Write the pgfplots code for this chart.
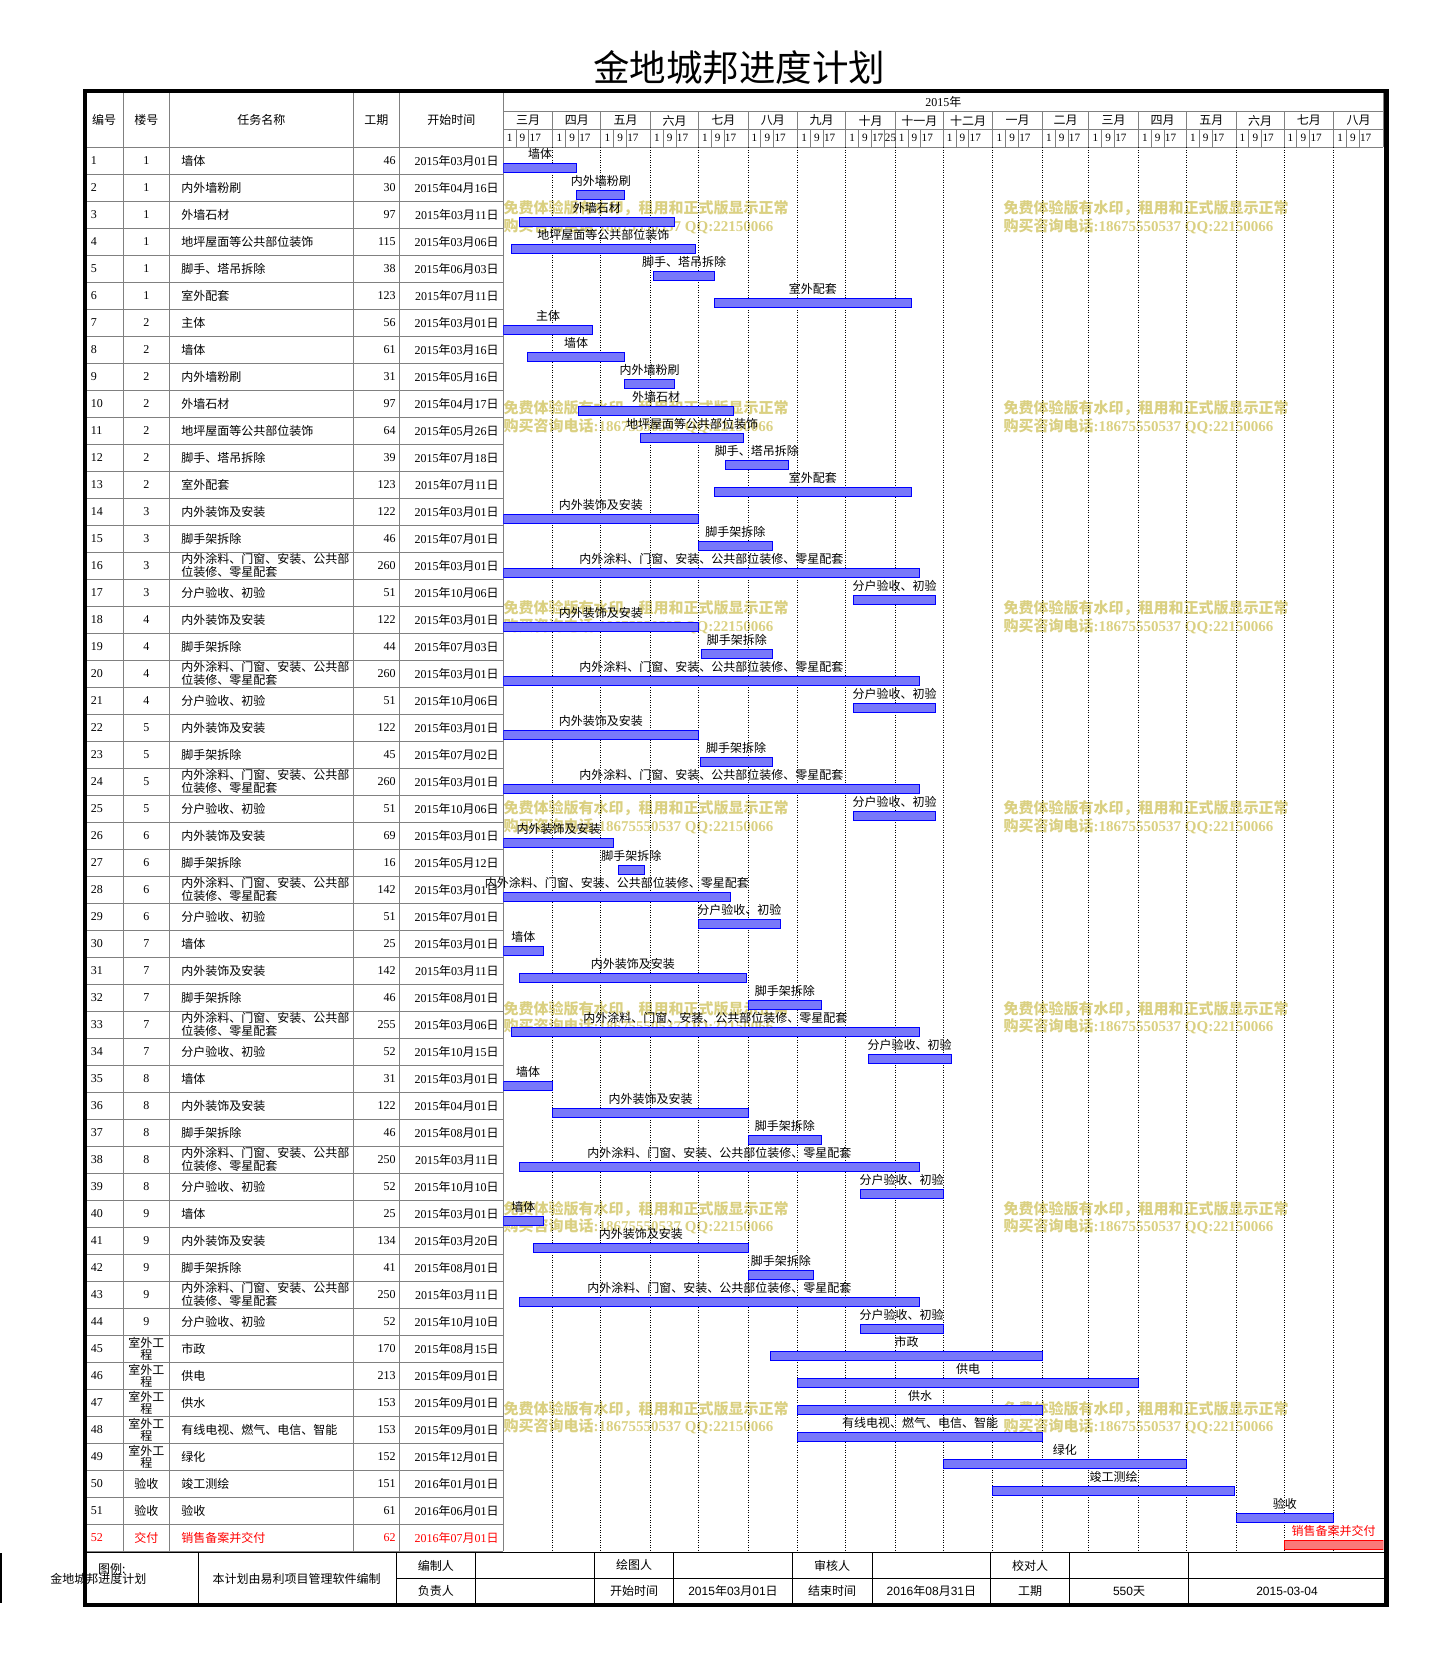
\documentclass[border=0pt]{standalone}
\usepackage{fontspec}
\setmainfont{Noto Sans CJK SC}
\newfontfamily\lsr{Liberation Serif}
\newfontfamily\lss{Liberation Sans}
\usepackage{pgfplots}
\pgfplotsset{compat=1.18}
\usepackage{pgfplotstable}
\definecolor{barfill}{RGB}{120,120,250}
\definecolor{redfill}{RGB}{250,120,120}
\definecolor{gg}{RGB}{128,128,128}
\definecolor{wm}{RGB}{218,208,130}
\newcommand\fs[1]{\fontsize{#1}{#1}\selectfont}
\newcommand\D[3]{{\lsr #1}年{\lsr #2}月{\lsr #3}日}
\newcommand\DS[3]{{\lss #1}年{\lss #2}月{\lss #3}日}
\newcommand\TL{内外涂料、门窗、安装、公共部\\位装修、零星配套}
\newcommand\SW{\normalfont 室外工\\\normalfont 程}
\newcommand\YS{\normalfont 验收}
\newcommand\JF{\normalfont 交付}

% gantt data: row, start (days after 2015-03-01), duration (days), label
\pgfplotstableread{
row start dur name
1 0 46 墙体
2 46 30 内外墙粉刷
3 10 97 外墙石材
4 5 115 地坪屋面等公共部位装饰
5 94 38 脚手、塔吊拆除
6 132 123 室外配套
7 0 56 主体
8 15 61 墙体
9 76 31 内外墙粉刷
10 47 97 外墙石材
11 86 64 地坪屋面等公共部位装饰
12 139 39 脚手、塔吊拆除
13 132 123 室外配套
14 0 122 内外装饰及安装
15 122 46 脚手架拆除
16 0 260 内外涂料、门窗、安装、公共部位装修、零星配套
17 219 51 分户验收、初验
18 0 122 内外装饰及安装
19 124 44 脚手架拆除
20 0 260 内外涂料、门窗、安装、公共部位装修、零星配套
21 219 51 分户验收、初验
22 0 122 内外装饰及安装
23 123 45 脚手架拆除
24 0 260 内外涂料、门窗、安装、公共部位装修、零星配套
25 219 51 分户验收、初验
26 0 69 内外装饰及安装
27 72 16 脚手架拆除
28 0 142 内外涂料、门窗、安装、公共部位装修、零星配套
29 122 51 分户验收、初验
30 0 25 墙体
31 10 142 内外装饰及安装
32 153 46 脚手架拆除
33 5 255 内外涂料、门窗、安装、公共部位装修、零星配套
34 228 52 分户验收、初验
35 0 31 墙体
36 31 122 内外装饰及安装
37 153 46 脚手架拆除
38 10 250 内外涂料、门窗、安装、公共部位装修、零星配套
39 223 52 分户验收、初验
40 0 25 墙体
41 19 134 内外装饰及安装
42 153 41 脚手架拆除
43 10 250 内外涂料、门窗、安装、公共部位装修、零星配套
44 223 52 分户验收、初验
45 167 170 市政
46 184 213 供电
47 184 153 供水
48 184 153 有线电视、燃气、电信、智能
49 275 152 绿化
50 306 151 竣工测绘
51 458 61 验收
}\gdata

\pgfplotsset{gantt/.style={
  at={(GA)}, anchor=north west,
  width=440pt, height=702pt, scale only axis,
  xmin=0, xmax=550, ymin=0, ymax=52, y dir=reverse, enlargelimits=false}}

\begin{document}
\begin{tikzpicture}[x=0.5pt, y=-0.5pt, every node/.style={inner sep=0pt}]
\useasboundingbox (0,0) rectangle (1435,1654);
\coordinate (GA) at (503.3,147.3);

% title
\node[font=\fs{18.25}] at (739,67.5) {金地城邦进度计划};

% watermark
\foreach \k in {0,...,6}{
  \foreach \xx in {503.3,1003.3}{
    \node[anchor=west, text=wm, font=\fs{7.5}\bfseries] at (\xx,{208.3+200.1*\k}) {免费体验版有水印，租用和正式版显示正常};
    \node[anchor=west, text=wm, font=\fs{7.5}\bfseries] at (\xx,{226+200.1*\k}) {购买咨询电话{\lsr :18675550537 QQ:22150066}};
  }
}

% table grid
\foreach \k in {0,...,52} \draw[gg, line width=0.5pt] (84.7,{147.3+27*\k}) -- (503.3,{147.3+27*\k});
\foreach \xx in {123.3,169.3,353.3,399.3,503.3} \draw[gg, line width=0.5pt] (\xx,91) -- (\xx,1551.3);

% table header
\begin{scope}[font=\fs{6}]
\node at (104,119.7) {编号};
\node at (146.3,119.7) {楼号};
\node at (261.3,119.7) {任务名称};
\node at (376.3,119.7) {工期};
\node at (451.3,119.7) {开始时间};
\node at (943.3,101.5) {{\lsr 2015}年};
\end{scope}

% gantt header
\draw[gg, line width=0.5pt] (503.3,111.7) -- (1383.3,111.7) (503.3,129.3) -- (1383.3,129.3) (503.3,147.3) -- (1383.3,147.3) (1383.3,91) -- (1383.3,147.3);
\foreach \ds/\de/\mn in {0/31/三月,31/61/四月,61/92/五月,92/122/六月,122/153/七月,153/184/八月,184/214/九月,214/245/十月,245/275/十一月,275/306/十二月,306/337/一月,337/366/二月,366/397/三月,397/427/四月,427/458/五月,458/488/六月,488/519/七月,519/550/八月}{
  \node[font=\fs{6}] at ({503.3+0.8*(\ds+\de)},120.5) {\mn};
  \draw[gg, line width=0.5pt] ({503.3+1.6*\ds},111.7) -- ({503.3+1.6*\ds},147.3);
  \draw[gg, line width=0.5pt] ({503.3+1.6*(\ds+8)},129.3) -- ++(0,18) ({503.3+1.6*(\ds+16)},129.3) -- ++(0,18);
  \node[font=\lsr\fs{5.6}] at ({503.3+1.6*(\ds+4)},138.3) {1};
  \node[font=\lsr\fs{5.6}] at ({503.3+1.6*(\ds+12)},138.3) {9};
  \node[font=\lsr\fs{5.6}] at ({503.3+1.6*(\ds+20)},138.3) {17};
}
\draw[gg, line width=0.5pt] ({503.3+1.6*238},129.3) -- ++(0,18);
\node[font=\lsr\fs{5.6}] at ({503.3+1.6*242},138.3) {25};

% table rows
\foreach \ri/\bb/\nm/\du/\yy/\mm/\dd in {
1/1/墙体/46/2015/03/01,
2/1/内外墙粉刷/30/2015/04/16,
3/1/外墙石材/97/2015/03/11,
4/1/地坪屋面等公共部位装饰/115/2015/03/06,
5/1/脚手、塔吊拆除/38/2015/06/03,
6/1/室外配套/123/2015/07/11,
7/2/主体/56/2015/03/01,
8/2/墙体/61/2015/03/16,
9/2/内外墙粉刷/31/2015/05/16,
10/2/外墙石材/97/2015/04/17,
11/2/地坪屋面等公共部位装饰/64/2015/05/26,
12/2/脚手、塔吊拆除/39/2015/07/18,
13/2/室外配套/123/2015/07/11,
14/3/内外装饰及安装/122/2015/03/01,
15/3/脚手架拆除/46/2015/07/01,
16/3/\TL/260/2015/03/01,
17/3/分户验收、初验/51/2015/10/06,
18/4/内外装饰及安装/122/2015/03/01,
19/4/脚手架拆除/44/2015/07/03,
20/4/\TL/260/2015/03/01,
21/4/分户验收、初验/51/2015/10/06,
22/5/内外装饰及安装/122/2015/03/01,
23/5/脚手架拆除/45/2015/07/02,
24/5/\TL/260/2015/03/01,
25/5/分户验收、初验/51/2015/10/06,
26/6/内外装饰及安装/69/2015/03/01,
27/6/脚手架拆除/16/2015/05/12,
28/6/\TL/142/2015/03/01,
29/6/分户验收、初验/51/2015/07/01,
30/7/墙体/25/2015/03/01,
31/7/内外装饰及安装/142/2015/03/11,
32/7/脚手架拆除/46/2015/08/01,
33/7/\TL/255/2015/03/06,
34/7/分户验收、初验/52/2015/10/15,
35/8/墙体/31/2015/03/01,
36/8/内外装饰及安装/122/2015/04/01,
37/8/脚手架拆除/46/2015/08/01,
38/8/\TL/250/2015/03/11,
39/8/分户验收、初验/52/2015/10/10,
40/9/墙体/25/2015/03/01,
41/9/内外装饰及安装/134/2015/03/20,
42/9/脚手架拆除/41/2015/08/01,
43/9/\TL/250/2015/03/11,
44/9/分户验收、初验/52/2015/10/10,
45/\SW/市政/170/2015/08/15,
46/\SW/供电/213/2015/09/01,
47/\SW/供水/153/2015/09/01,
48/\SW/有线电视、燃气、电信、智能/153/2015/09/01,
49/\SW/绿化/152/2015/12/01,
50/\YS/竣工测绘/151/2016/01/01,
51/\YS/验收/61/2016/06/01,
52/\JF/销售备案并交付/62/2016/07/01}{
  \pgfmathsetmacro\yc{147.3+27*\ri-13.5}
  \ifnum\ri=52 \def\cc{red}\else\def\cc{black}\fi
  \node[anchor=west, text=\cc, font=\lsr\fs{6}] at (90.5,\yc) {\ri};
  \node[align=center, text=\cc, font=\fontsize{6}{5.3}\selectfont] at (146.3,\yc) {\lsr\bb};
  \node[anchor=west, align=left, text=\cc, font=\fontsize{6}{5}\selectfont] at (181,\yc) {\nm};
  \node[anchor=east, text=\cc, font=\lsr\fs{6}] at (396,\yc) {\du};
  \node[anchor=east, text=\cc, font=\fs{6}] at (499,\yc) {\D{\yy}{\mm}{\dd}};
}

% gantt bars
\begin{axis}[gantt,
  axis line style={draw=none}, tick style={draw=none},
  xtick={31,61,92,122,153,184,214,245,275,306,337,366,397,427,458,488,519},
  xticklabels={}, ytick=\empty,
  xmajorgrids, major grid style={black, line width=0.5pt, dash pattern=on 0.5pt off 0.75pt},
  xbar stacked, bar width=0.3333]
\addplot[draw=none, fill=none] table[x=start, y expr=\thisrow{row}-0.241] {\gdata};
\addplot[draw=blue, fill=barfill, line width=0.5pt] table[x=dur, y expr=\thisrow{row}-0.241] {\gdata};
\end{axis}

\begin{axis}[gantt, hide axis, xbar stacked, bar width=0.3333]
\addplot[draw=none, fill=none] coordinates {(488,51.759)};
\addplot[draw=red, fill=redfill, line width=0.5pt] coordinates {(62,51.759)};
\end{axis}

\begin{axis}[gantt, hide axis, clip=false,
  point meta=explicit symbolic,
  nodes near coords={\pgfplotspointmeta},
  nodes near coords align={center},
  every node near coord/.append style={font=\fs{6}, anchor=center, inner sep=0pt}]
\addplot[draw=none, mark=none, every node near coord/.append style={text=black}]
  table[x expr=\thisrow{start}+0.5*\thisrow{dur}, y expr=\thisrow{row}-0.741, meta=name] {\gdata};
\addplot[draw=none, mark=none, every node near coord/.append style={text=red}]
  coordinates {(519,51.259) [销售备案并交付]};
\end{axis}

% footer
\draw[black, line width=0.6pt] (84.7,1552.5) -- (1386,1552.5);
\draw[black, line width=0.5pt] (396.5,1578.3) -- (1386,1578.3);
\foreach \xx in {198.3,396.5,475.2,594.6,673.5,792.4,872,990.7,1069.4,1188.5}
  \draw[black, line width=0.5pt] (\xx,1552.5) -- (\xx,1605);
\draw[black, line width=0.6pt] (1,1553) -- (1,1603);
\begin{scope}[font=\fs{6}]
\node at (111.7,1569.3) {图例:};
\node at (98.3,1579.3) {金地城邦进度计划};
\node at (296.7,1579.3) {本计划由易利项目管理软件编制};
\node at (435.8,1565.4) {编制人};
\node at (634,1565.4) {绘图人};
\node at (832.2,1565.4) {审核人};
\node at (1030,1565.4) {校对人};
\node at (435.8,1591) {负责人};
\node at (634,1591) {开始时间};
\node at (733,1591) {\DS{2015}{03}{01}};
\node at (832.2,1591) {结束时间};
\node at (931.4,1591) {\DS{2016}{08}{31}};
\node at (1030,1591) {工期};
\node at (1129,1591) {{\lss 550}天};
\node at (1287,1591) {\lss 2015-03-04};
\end{scope}

% outer border
\draw[black, line width=2.2pt] (85.2,91) rectangle (1386.3,1605);
\end{tikzpicture}
\end{document}
